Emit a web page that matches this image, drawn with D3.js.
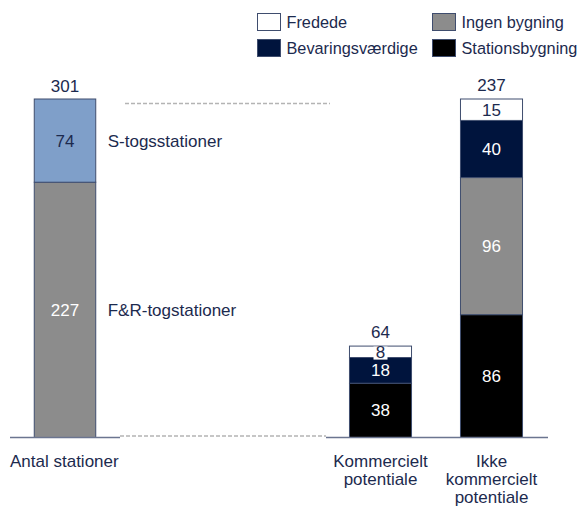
<!DOCTYPE html>
<html>
<head>
<meta charset="utf-8">
<script src="https://cdn.jsdelivr.net/npm/d3@7"></script>
<style>
  html, body { margin: 0; padding: 0; background: #fff; }
  svg { display: block; font-family: "Liberation Sans", Arial, sans-serif; }
</style>
</head>
<body>
<svg id="chart" width="579" height="506"></svg>
<script>
// Left panel: total number of stations split by network type
const leftCategory = ["Antal stationer"];
const leftSeries = ["S-togsstationer", "F&R-togstationer"];
const leftValues = [74, 227];          // top to bottom: S-tog, F&R
const leftTotal = 301;

// Right panel: stations split by commercial potential and building status
const rightCategories = ["Kommercielt potentiale", "Ikke kommercielt potentiale"];
const rightCategoryLines = [["Kommercielt", "potentiale"], ["Ikke", "kommercielt", "potentiale"]];
const seriesNames = ["Stationsbygning", "Ingen bygning", "Bevaringsværdige", "Fredede"]; // bottom to top
const stationsbygning = [38, 86];
const ingenBygning = [0, 96];
const bevaringsvaerdige = [18, 40];
const fredede = [8, 15];
const rightTotals = [64, 237];

// Legend layout order (two columns)
const legendItems = ["Fredede", "Ingen bygning", "Bevaringsværdige", "Stationsbygning"];

const textColor = "#1c2a4e";
const outline = "#3f4d6e";
const colors = {
  "Fredede": "#ffffff",
  "Ingen bygning": "#8c8c8c",
  "Bevaringsværdige": "#00143d",
  "Stationsbygning": "#000000",
  "S-togsstationer": "#7f9fc9",
  "F&R-togstationer": "#8c8c8c"
};
const labelColors = {
  "Fredede": textColor,
  "Ingen bygning": "#ffffff",
  "Bevaringsværdige": "#ffffff",
  "Stationsbygning": "#ffffff",
  "S-togsstationer": textColor,
  "F&R-togstationer": "#ffffff"
};

const svg = d3.select("#chart");
const baseY = 437.5, topY = 99;
const fontSize = 17;
const legendFontSize = 16.3;

// Scales
const xLeft = d3.scaleBand().domain(leftCategory).range([10, 120]).paddingInner(0.441).paddingOuter(0.2205);
const xRight = d3.scaleBand().domain(rightCategories).range([325, 547]).paddingInner(0.441).paddingOuter(0.2205);
const yLeft = d3.scaleLinear().domain([0, leftTotal]).range([baseY, topY]);
const yRight = d3.scaleLinear().domain([0, d3.max(rightTotals)]).range([baseY, topY]);

// Dashed connector lines between the panels
svg.append("line").attr("x1", 125).attr("x2", 330).attr("y1", 103.5).attr("y2", 103.5)
  .attr("stroke", "#b4b4b4").attr("stroke-width", 1.3).attr("stroke-dasharray", "4,2");
svg.append("line").attr("x1", 120).attr("x2", 326).attr("y1", 436).attr("y2", 436)
  .attr("stroke", "#b4b4b4").attr("stroke-width", 1.3).attr("stroke-dasharray", "4,2");

// Left stacked bar (S-tog on top of F&R)
const leftStack = [
  { name: "F&R-togstationer", y0: 0, y1: leftValues[1], v: leftValues[1] },
  { name: "S-togsstationer", y0: leftValues[1], y1: leftValues[1] + leftValues[0], v: leftValues[0] }
];
const lx = xLeft(leftCategory[0]), lw = xLeft.bandwidth();
const leftG = svg.append("g");
leftG.selectAll("rect").data(leftStack).join("rect")
  .attr("x", lx).attr("width", lw)
  .attr("y", d => yLeft(d.y1)).attr("height", d => yLeft(d.y0) - yLeft(d.y1))
  .attr("fill", d => colors[d.name]).attr("stroke", outline).attr("stroke-width", 1);
leftG.selectAll("text.val").data(leftStack).join("text")
  .attr("class", "val")
  .attr("x", lx + lw / 2).attr("y", d => (yLeft(d.y0) + yLeft(d.y1)) / 2)
  .attr("dy", "0.35em").attr("text-anchor", "middle").attr("font-size", fontSize)
  .attr("fill", d => labelColors[d.name]).text(d => d.v);
leftG.selectAll("text.series").data(leftStack).join("text")
  .attr("class", "series")
  .attr("x", lx + lw + 12).attr("y", d => (yLeft(d.y0) + yLeft(d.y1)) / 2)
  .attr("dy", "0.35em").attr("font-size", fontSize).attr("fill", textColor)
  .text(d => d.name);
svg.append("text").attr("x", lx + lw / 2).attr("y", yLeft(leftTotal) - 13)
  .attr("dy", "0.35em").attr("text-anchor", "middle").attr("font-size", fontSize)
  .attr("fill", textColor).text(leftTotal);

// Right stacked bars
const table = rightCategories.map((c, i) => ({
  cat: c,
  "Stationsbygning": stationsbygning[i],
  "Ingen bygning": ingenBygning[i],
  "Bevaringsværdige": bevaringsvaerdige[i],
  "Fredede": fredede[i]
}));
const stacked = d3.stack().keys(seriesNames)(table);
const rightG = svg.append("g");
stacked.forEach(layer => {
  const key = layer.key;
  layer.forEach(seg => {
    const v = seg[1] - seg[0];
    if (v <= 0) return;
    const cat = seg.data.cat;
    const x = xRight(cat), w = xRight.bandwidth();
    rightG.append("rect")
      .attr("x", x).attr("width", w)
      .attr("y", yRight(seg[1])).attr("height", yRight(seg[0]) - yRight(seg[1]))
      .attr("fill", colors[key]).attr("stroke", outline).attr("stroke-width", 1);
  });
});
// Value labels (drawn after all rects so backgrounds sit on top)
stacked.forEach(layer => {
  const key = layer.key;
  layer.forEach(seg => {
    const v = seg[1] - seg[0];
    if (v <= 0) return;
    const cat = seg.data.cat;
    const cx = xRight(cat) + xRight.bandwidth() / 2;
    let cy = (yRight(seg[0]) + yRight(seg[1])) / 2;
    const segH = yRight(seg[0]) - yRight(seg[1]);
    if (segH < 16) {
      // small segment: label gets a white backing box
      cy = yRight(seg[1]) + 6;
      rightG.append("rect").attr("x", cx - 7).attr("y", yRight(seg[1]) + 0.5)
        .attr("width", 14).attr("height", 13).attr("fill", colors[key]);
    }
    rightG.append("text")
      .attr("x", cx).attr("y", cy).attr("dy", "0.35em")
      .attr("text-anchor", "middle").attr("font-size", fontSize)
      .attr("fill", labelColors[key]).text(v);
  });
});
rightCategories.forEach((c, i) => {
  svg.append("text").attr("x", xRight(c) + xRight.bandwidth() / 2)
    .attr("y", yRight(rightTotals[i]) - 14).attr("dy", "0.35em")
    .attr("text-anchor", "middle").attr("font-size", fontSize)
    .attr("fill", textColor).text(rightTotals[i]);
});

// Baselines
svg.append("line").attr("x1", 10).attr("x2", 120).attr("y1", baseY).attr("y2", baseY)
  .attr("stroke", "#6b7590").attr("stroke-width", 1.5);
svg.append("line").attr("x1", 326).attr("x2", 548).attr("y1", baseY).attr("y2", baseY)
  .attr("stroke", "#6b7590").attr("stroke-width", 1.5);

// Category labels
svg.append("text").attr("x", 10).attr("y", 461).attr("dy", "0.35em")
  .attr("font-size", fontSize).attr("fill", textColor).text(leftCategory[0]);
rightCategories.forEach((c, i) => {
  const t = svg.append("text").attr("text-anchor", "middle").attr("font-size", fontSize)
    .attr("fill", textColor);
  rightCategoryLines[i].forEach((line, j) => {
    t.append("tspan").attr("x", xRight(c) + xRight.bandwidth() / 2)
      .attr("y", 461 + j * 18).attr("dy", "0.35em").text(line);
  });
});

// Legend
const legend = svg.append("g");
legendItems.forEach((name, i) => {
  const col = i % 2, row = Math.floor(i / 2);
  const x = col === 0 ? 257.5 : 432.5;
  const y = row === 0 ? 13.5 : 39.5;
  legend.append("rect").attr("x", x).attr("y", y).attr("width", 23).attr("height", 17)
    .attr("fill", colors[name]).attr("stroke", outline).attr("stroke-width", 1);
  legend.append("text").attr("x", x + 29).attr("y", y + 9).attr("dy", "0.35em")
    .attr("font-size", legendFontSize).attr("fill", textColor).text(name);
});
</script>
</body>
</html>
